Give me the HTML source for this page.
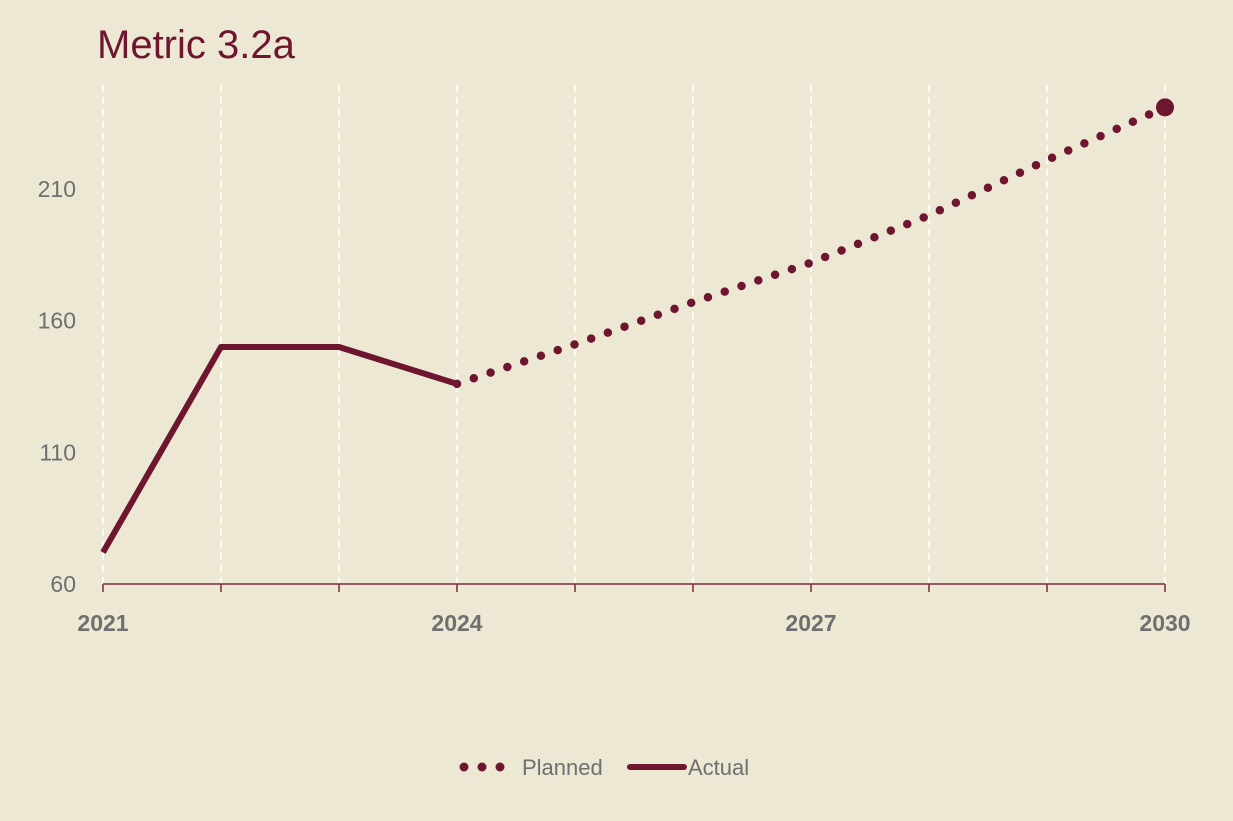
<!DOCTYPE html>
<html><head><meta charset="utf-8"><style>
html,body{margin:0;padding:0;background:#ede8d4;}
svg{display:block;font-family:"Liberation Sans",sans-serif;}
</style></head><body>
<svg id="chart" width="1233" height="821" viewBox="0 0 1233 821">
<rect x="0" y="0" width="1233" height="821" fill="#ede8d4"/>
<text x="97" y="58" font-size="40" fill="#6e1530">Metric 3.2a</text>
<g id="grid"></g>
<g id="yaxis"></g>
<g id="xaxis"></g>
<g id="series"></g>
<g>
<g>
<circle cx="464" cy="767" r="4.5" fill="#6e1530"/><circle cx="482" cy="767" r="4.5" fill="#6e1530"/><circle cx="500" cy="767" r="4.5" fill="#6e1530"/>
<text x="522" y="775" font-size="22" fill="#6f6f6f">Planned</text></g>
<g>
<line x1="630" y1="767" x2="684" y2="767" stroke="#6e1530" stroke-width="6" stroke-linecap="round"/>
<text x="688" y="775" font-size="22" fill="#6f6f6f">Actual</text></g>
</g>
</svg>
<script>
const years=[2021,2022,2023,2024,2025,2026,2027,2028,2029,2030];
const actualYears=[2021,2022,2023,2024];
const actualValues=[72,150,150,136];
const plannedYears=[2024,2025,2026,2027,2028,2029,2030];
const plannedValues=[136,151,167,182,200,221,241];
const yTicks=[60,110,160,210];
const xLabels=[2021,2024,2027,2030];
const NS="http://www.w3.org/2000/svg";
const x=v=>103+(v-2021)*(1165-103)/9;
const y=v=>584-(v-60)*(584-189)/150;
function mk(t,a,p){const e=document.createElementNS(NS,t);for(const k in a)e.setAttribute(k,a[k]);p.appendChild(e);return e;}
const grid=document.getElementById('grid'),ya=document.getElementById('yaxis'),xa=document.getElementById('xaxis'),se=document.getElementById('series');
years.forEach(yr=>{
 const g=mk('line',{x1:x(yr),x2:x(yr),y1:85,y2:584,stroke:'#ffffff','stroke-width':1.5,'stroke-dasharray':'7 5'},grid);
 
 
 const t=mk('line',{x1:x(yr),x2:x(yr),y1:584,y2:592,stroke:'#7a2a40','stroke-width':1.5},xa);
 
 
});
const al=mk('line',{x1:103,x2:1165,y1:584,y2:584,stroke:'#7a2a40','stroke-width':1.5},xa);


yTicks.forEach(v=>{
 const t=mk('text',{x:76,y:y(v)+8,'font-size':23,fill:'#6f6f6f','text-anchor':'end'},ya);
 t.textContent=v;
 
 
});
xLabels.forEach(v=>{
 const t=mk('text',{x:x(v),y:631,'font-size':23,'font-weight':'bold',fill:'#6f6f6f','text-anchor':'middle'},xa);
 t.textContent=v;
 
 
});
const pp=plannedYears.map((yr,i)=>x(yr)+','+y(plannedValues[i])).join(' ');
const pl=mk('polyline',{points:pp,fill:'none',stroke:'#6e1530','stroke-width':8.5,'stroke-linecap':'round','stroke-dasharray':'0 17.7'},se);


const li=plannedYears.length-1;
const ed=mk('circle',{cx:x(plannedYears[li]),cy:y(plannedValues[li]),r:9,fill:'#6e1530'},se);


const ap=actualYears.map((yr,i)=>x(yr)+','+y(actualValues[i])).join(' ');
const ac=mk('polyline',{points:ap,fill:'none',stroke:'#6e1530','stroke-width':6,'stroke-linejoin':'round'},se);


</script>
</body></html>
